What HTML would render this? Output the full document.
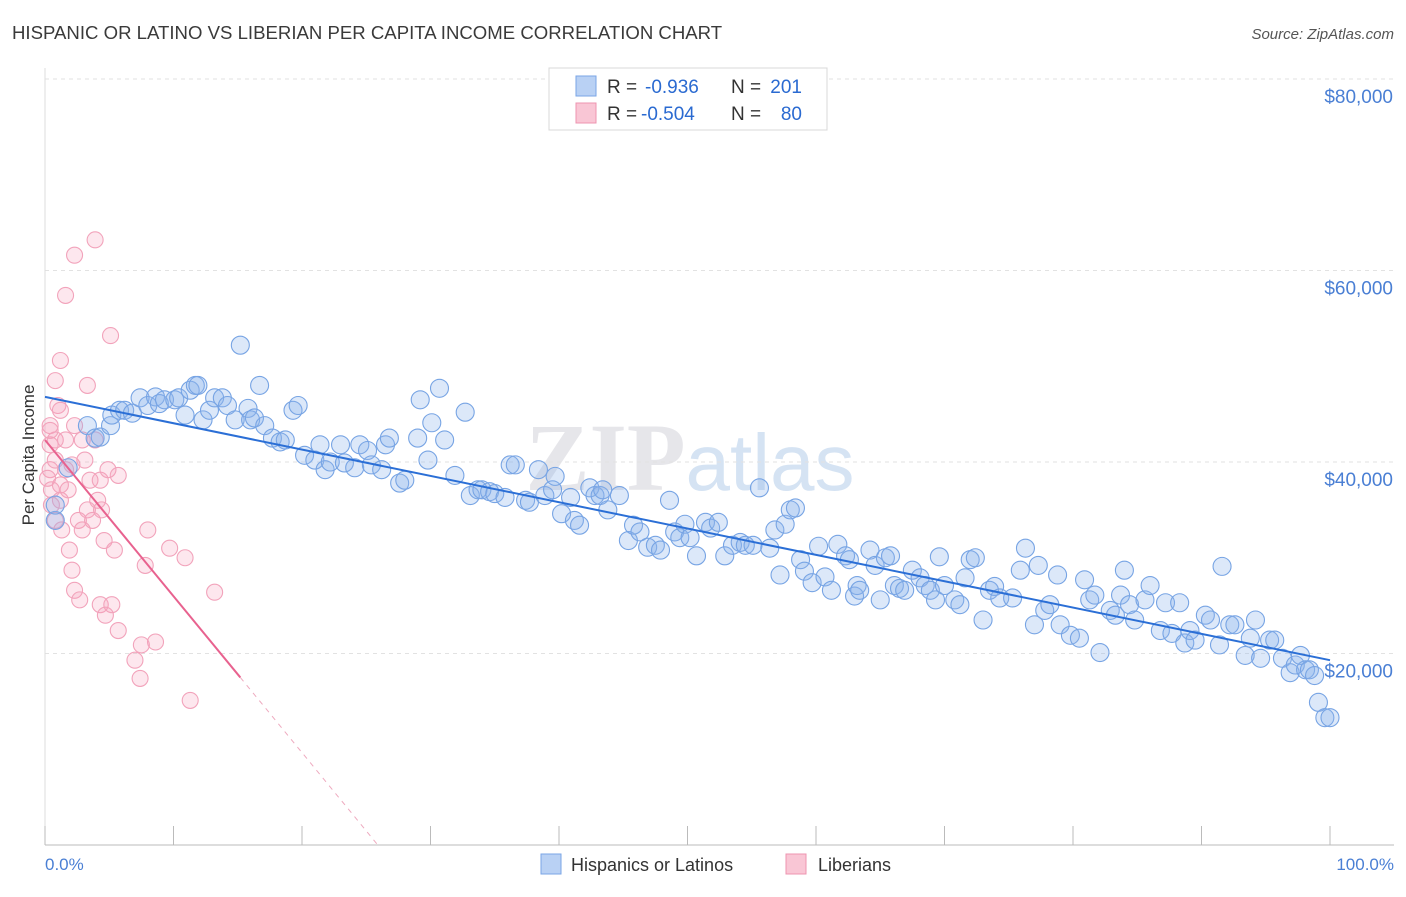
<!DOCTYPE html>
<html><head><meta charset="utf-8">
<style>
body{margin:0;background:#fff;font-family:"Liberation Sans",sans-serif;}
svg text{font-family:"Liberation Sans",sans-serif;}
</style></head>
<body>
<svg id="chart" width="1406" height="892" xmlns="http://www.w3.org/2000/svg">
<text x="12" y="39" font-size="18.6" fill="#3a3a3a">HISPANIC OR LATINO VS LIBERIAN PER CAPITA INCOME CORRELATION CHART</text>
<text x="1394" y="39" font-size="15" fill="#555" text-anchor="end" font-style="italic">Source: ZipAtlas.com</text>
<text x="690" y="490" font-size="96" text-anchor="middle" fill="#e6e6ea"><tspan font-family="Liberation Serif" font-weight="bold">ZIP</tspan><tspan fill="#d5e3f3" font-size="80">atlas</tspan></text>
<g id="grid"></g>
<g id="axes"></g>
<g id="pts"></g>
<g id="lines"></g>
<text transform="translate(34,455) rotate(-90)" font-size="17" fill="#333" text-anchor="middle">Per Capita Income</text>
<text x="45" y="870" font-size="17" fill="#4a7fd4">0.0%</text>
<text x="1394" y="870" font-size="17" fill="#4a7fd4" text-anchor="end">100.0%</text>
<g>
<rect x="549" y="68" width="278" height="62" fill="#fff" stroke="#d8d8d8"/>
<rect x="576" y="76" width="20" height="20" fill="#b9d1f4" stroke="#7aa5e6"/>
<rect x="576" y="103" width="20" height="20" fill="#f9c6d5" stroke="#ee94b0"/>
<text x="607" y="93" font-size="19" fill="#333">R =</text>
<text x="645" y="93" font-size="19" fill="#2a6ad1">-0.936</text>
<text x="731" y="93" font-size="19" fill="#333">N =</text>
<text x="802" y="93" font-size="19" fill="#2a6ad1" text-anchor="end">201</text>
<text x="607" y="120" font-size="19" fill="#333">R =</text>
<text x="641" y="120" font-size="19" fill="#2a6ad1">-0.504</text>
<text x="731" y="120" font-size="19" fill="#333">N =</text>
<text x="802" y="120" font-size="19" fill="#2a6ad1" text-anchor="end">80</text>
</g>
<g>
<rect x="541" y="854" width="20" height="20" fill="#b9d1f4" stroke="#7aa5e6"/>
<text x="571" y="871" font-size="18" fill="#333">Hispanics or Latinos</text>
<rect x="786" y="854" width="20" height="20" fill="#f9c6d5" stroke="#ee94b0"/>
<text x="818" y="871" font-size="18" fill="#333">Liberians</text>
</g>
</svg>
<script>
const yTicks=[20000,40000,60000,80000];
const yTickLabels=["$20,000","$40,000","$60,000","$80,000"];
const xTicks=[0,10,20,30,40,50,60,70,80,90,100];
const blueX=[0.8,0.8,1.8,3.3,3.9,4.3,5.1,5.2,5.8,6.2,6.8,7.4,8.0,8.6,8.9,9.3,10.1,10.4,10.9,11.3,11.7,11.9,12.3,12.8,13.2,13.8,14.2,14.8,15.2,15.8,16.0,16.3,16.7,17.1,17.7,18.3,18.7,19.3,19.7,20.2,21.0,21.4,21.8,22.2,23.0,23.3,24.1,24.5,25.1,25.4,26.2,26.5,26.8,27.6,28.0,29.0,29.2,29.8,30.1,30.7,31.1,31.9,32.7,33.1,33.7,34.0,34.6,35.0,35.8,36.2,36.6,37.4,37.7,38.4,38.9,39.5,39.7,40.2,40.9,41.2,41.6,42.4,42.8,43.2,43.4,43.8,44.7,45.4,45.8,46.3,46.9,47.5,47.9,48.6,49.0,49.4,49.8,50.2,50.7,51.4,51.8,52.4,52.9,53.5,54.1,54.5,55.1,55.6,56.4,56.8,57.2,57.6,58.0,58.4,58.8,59.1,59.7,60.2,60.7,61.2,61.7,62.3,62.6,63.0,63.2,63.4,64.2,64.6,65.0,65.4,65.8,66.1,66.5,66.9,67.5,68.1,68.5,68.9,69.3,69.6,70.0,70.8,71.2,71.6,72.0,72.4,73.0,73.5,73.9,74.3,75.3,75.9,76.3,77.0,77.3,77.8,78.2,78.8,79.0,79.8,80.5,80.9,81.3,81.7,82.1,82.9,83.3,83.7,84.0,84.4,84.8,85.6,86.0,86.8,87.2,87.7,88.3,88.7,89.1,89.5,90.3,90.7,91.4,91.6,92.2,92.6,93.4,93.8,94.2,94.6,95.3,95.7,96.3,96.9,97.3,97.7,98.1,98.4,98.8,99.1,99.6,100];
const blueY=[33.9,35.5,39.4,43.8,42.5,42.6,43.8,44.9,45.4,45.4,45.1,46.7,45.9,46.8,46.1,46.5,46.5,46.7,44.9,47.5,48.0,48.0,44.4,45.4,46.7,46.7,45.9,44.4,52.2,45.6,44.4,44.6,48.0,43.8,42.5,42.1,42.3,45.4,45.9,40.7,40.2,41.8,39.2,40.0,41.8,39.9,39.4,41.8,41.2,39.7,39.2,41.8,42.5,37.8,38.1,42.5,46.5,40.2,44.1,47.7,42.3,38.6,45.2,36.5,37.1,37.1,36.9,36.7,36.3,39.7,39.7,36.0,35.8,39.2,36.5,37.1,38.5,34.6,36.3,33.9,33.4,37.3,36.5,36.5,37.1,35.0,36.5,31.8,33.4,32.7,31.1,31.3,30.8,36.0,32.7,32.1,33.5,32.1,30.2,33.7,33.1,33.7,30.2,31.3,31.6,31.3,31.3,37.3,31.0,32.9,28.2,33.5,35.0,35.2,29.8,28.6,27.4,31.2,28.0,26.6,31.4,30.2,29.8,26.0,27.1,26.6,30.8,29.2,25.6,30.0,30.2,27.1,26.8,26.6,28.7,27.9,27.1,26.6,25.6,30.1,27.1,25.6,25.1,27.9,29.8,30.0,23.5,26.6,27.0,25.8,25.8,28.7,31.0,23.0,29.2,24.5,25.1,28.2,23.0,21.9,21.6,27.7,25.6,26.1,20.1,24.5,24.0,26.1,28.7,25.1,23.5,25.6,27.1,22.4,25.3,22.1,25.3,21.1,22.4,21.4,24.0,23.5,20.9,29.1,23.0,23.0,19.8,21.6,23.5,19.5,21.4,21.4,19.5,18.0,18.8,19.8,18.3,18.3,17.7,14.9,13.3,13.3];
const pinkX=[0.4,0.4,0.4,0.5,0.5,0.8,0.8,0.8,1.0,1.2,1.2,1.2,1.3,1.6,1.6,1.6,1.8,1.9,2.1,2.1,2.3,2.3,2.3,2.6,2.7,2.9,2.9,3.1,3.3,3.3,3.5,3.7,3.9,3.9,4.1,4.3,4.3,4.4,4.6,4.7,4.9,5.1,5.2,5.4,5.7,5.7,7.0,7.4,7.5,7.8,8.0,8.6,9.7,10.9,11.3,13.2,1.2,0.4,0.2,0.8];
const pinkY=[43.8,41.8,39.2,37.1,35.5,48.5,42.3,40.2,45.9,45.4,37.6,36.0,32.9,57.4,42.3,39.2,37.1,30.8,39.7,28.7,26.6,61.6,43.8,33.9,25.6,42.3,32.9,40.2,48.0,35.0,38.1,33.9,63.2,42.3,36.0,25.1,38.1,35.0,31.8,24.0,39.2,53.2,25.1,30.8,38.6,22.4,19.3,17.4,20.9,29.2,32.9,21.2,31.0,30.0,15.1,26.4,50.6,43.3,38.3,33.9];
const blueLine=[0,46.8,100,19.3];
const pinkLine=[0,42.3,15.2,17.5,25.9,0];
const X=p=>45+p*12.85, Y=k=>845-k*1000*191.5/20000;
const NS="http://www.w3.org/2000/svg";
function mk(t,a,parent){const e=document.createElementNS(NS,t);for(const k in a)e.setAttribute(k,a[k]);document.getElementById(parent).appendChild(e);return e;}
yTicks.forEach((v,i)=>{
  const l=mk('line',{x1:45,x2:1394,y1:Y(v/1000),y2:Y(v/1000),stroke:'#e2e2e2','stroke-dasharray':'4,4'},'grid');
  
  
  const t=mk('text',{x:1393,y:Y(v/1000)+24,'font-size':19,fill:'#4a7fd4','text-anchor':'end'},'axes');
  t.textContent=yTickLabels[i];
  
  
});
const ax=mk('line',{x1:45,x2:1394,y1:845,y2:845,stroke:'#bbb'},'axes');


const ay=mk('line',{x1:45,x2:45,y1:68,y2:845,stroke:'#ddd'},'axes');


xTicks.forEach(p=>{
  const t=mk('line',{x1:X(p),x2:X(p),y1:826,y2:845,stroke:'#bbb'},'axes');
  
  
});
pinkX.forEach((p,i)=>{
  const c=mk('circle',{cx:X(p),cy:Y(pinkY[i]),r:8,fill:'rgba(246,160,188,0.25)',stroke:'#f2a3bb','stroke-width':1.1},'pts');
  
  
});
blueX.forEach((p,i)=>{
  const c=mk('circle',{cx:X(p),cy:Y(blueY[i]),r:9,fill:'rgba(140,180,235,0.3)',stroke:'#77a4e4','stroke-width':1.1},'pts');
  
  
});
const bl=mk('line',{x1:X(blueLine[0]),y1:Y(blueLine[1]),x2:X(blueLine[2]),y2:Y(blueLine[3]),stroke:'#2b6fd6','stroke-width':2},'lines');


const pl=mk('line',{x1:X(pinkLine[0]),y1:Y(pinkLine[1]),x2:X(pinkLine[2]),y2:Y(pinkLine[3]),stroke:'#e8628f','stroke-width':2},'lines');


const pd=mk('line',{x1:X(pinkLine[2]),y1:Y(pinkLine[3]),x2:X(pinkLine[4]),y2:Y(pinkLine[5]),stroke:'#eeaabf','stroke-width':1,'stroke-dasharray':'5,5'},'lines');


</script>
</body></html>
